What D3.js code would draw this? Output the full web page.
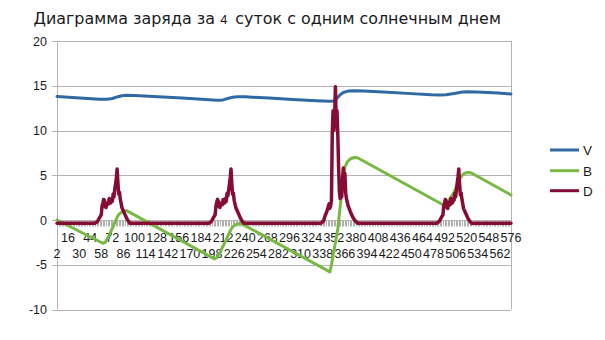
<!DOCTYPE html>
<html><head><meta charset="utf-8">
<script src="https://cdn.jsdelivr.net/npm/d3@7"></script>
<style>
html,body{margin:0;padding:0;background:#fff;}
svg{display:block;}
</style></head>
<body>
<svg id="chart" width="605" height="340"></svg>
<script>
// ---- data ----
const titleParts = ["Диаграмма заряда за", "4", "суток с одним солнечным днем"];
const seriesNames = ["V", "B", "D"];
const seriesColors = ["#2f6aa3", "#78b943", "#870c33"];
const yTicks = [-10, -5, 0, 5, 10, 15, 20];
const categoryFirst = 2, categoryLast = 576;
const categoryLabels = [2,16,30,44,58,72,86,100,114,128,142,156,170,184,198,212,226,240,254,268,282,296,310,324,338,352,366,380,394,408,422,436,450,464,478,492,506,520,534,548,562,576];

// [category, value]
const vPoints = [[2,13.8],[31,13.63],[56,13.5],[65,13.5],[72,13.58],[79,13.78],[84,13.88],[90,13.93],[100,13.9],[130,13.78],[160,13.63],[190,13.47],[204,13.37],[212,13.42],[220,13.63],[226,13.74],[231,13.78],[240,13.76],[270,13.62],[300,13.46],[330,13.32],[347,13.26],[352,13.3],[356,13.6],[360,14.0],[364,14.25],[370,14.4],[378,14.45],[390,14.42],[420,14.28],[450,14.12],[475,14.0],[486,13.97],[494,14.0],[500,14.08],[508,14.2],[514,14.3],[522,14.33],[540,14.27],[560,14.18],[576,14.08]];

const bPoints = [[2,0],[60,-2.6],[63,-2.5],[66,-2.0],[69,-1.5],[72,-0.9],[75,-0.3],[78,0.3],[80,0.6],[84,0.9],[90,1.05],[201,-4.35],[204,-4.2],[208,-3.6],[212,-2.9],[216,-2.2],[220,-1.4],[223,-0.9],[226,-0.6],[230,-0.45],[235,-0.4],[347,-5.8],[349,-5.0],[352,-3.5],[355,-2.0],[357,-1.0],[360,1.5],[363,4.0],[366,5.9],[369,6.5],[373,6.85],[378,6.98],[382,6.95],[490,1.7],[494,1.9],[498,2.3],[502,2.8],[505,3.3],[508,4.0],[512,4.7],[515,5.05],[518,5.25],[522,5.3],[526,5.25],[576,2.8]];

const dPoints = [[2,-0.35],[50,-0.35],[53,-0.2],[56,0.3],[58,0.6],[59,1.6],[60,1.9],[61,2.3],[62,2.2],[63,1.5],[64,1.4],[65,1.7],[66,1.9],[67,1.8],[68,2.4],[69,2.2],[70,1.9],[71,2.3],[72,2.1],[73,2.9],[74,2.6],[75,3.4],[76,4.0],[77,4.6],[78,5.7],[79,4.2],[80,2.9],[81,3.1],[82,2.3],[83,1.9],[84,1.4],[86,1.0],[88,0.6],[90,0.2],[92,-0.1],[94,-0.35],
[194,-0.35],[197,-0.2],[200,0.3],[202,0.6],[203,1.6],[204,2.0],[205,2.3],[206,2.1],[207,1.5],[208,1.4],[209,1.8],[210,1.9],[211,1.7],[212,2.3],[213,2.2],[214,1.9],[215,2.4],[216,2.1],[217,3.0],[218,2.7],[219,3.3],[220,4.0],[221,4.7],[222,5.7],[223,4.1],[224,2.9],[225,3.0],[226,2.2],[227,1.8],[228,1.4],[230,1.0],[232,0.6],[234,0.2],[236,-0.1],[238,-0.35],
[336,-0.35],[339,-0.1],[341,0.5],[343,0.9],[345,1.5],[346,1.8],[347,1.3],[348,1.6],[349,2.2],[350,9.5],[351,12.2],[352,10.0],[353,11.4],[354,14.9],[355,11.0],[356,12.2],[357,9.6],[358,6.0],[359,3.2],[360,2.4],[361,3.4],[362,2.6],[363,4.6],[364,5.8],[365,4.0],[366,5.2],[367,3.0],[368,2.4],[370,1.6],[373,0.9],[376,0.3],[379,-0.1],[382,-0.35],
[482,-0.35],[485,-0.2],[488,0.3],[490,0.6],[491,1.6],[492,1.9],[493,2.3],[494,2.1],[495,1.4],[496,1.3],[497,1.8],[498,2.0],[499,1.7],[500,2.4],[501,2.2],[502,1.9],[503,2.3],[504,2.2],[505,3.0],[506,2.6],[507,3.4],[508,4.1],[509,4.8],[510,5.7],[511,4.0],[512,2.8],[513,3.0],[514,2.3],[515,1.8],[516,1.3],[518,0.9],[520,0.5],[522,0.1],[524,-0.15],[526,-0.35],[576,-0.35]];

const seriesPoints = [vPoints, bPoints, dPoints];
const seriesWidths = [3, 3, 3.5];

// ---- layout ----
const svg = d3.select("#chart");
const plot = {left: 57, right: 511, top: 41, bottom: 309.5};
const x = d3.scaleLinear().domain([categoryFirst, categoryLast]).range([plot.left, plot.right]);
const y = d3.scaleLinear().domain([-10, 20]).range([plot.bottom, plot.top]);
const grid = "#b3b3b3";
const font = "'Liberation Sans', Arial, sans-serif";
const titleFont = "'DejaVu Sans', sans-serif";

// title: three pieces side by side, fitted to the reference width
const titleLeft = 33.5, titleWidth = 468;
const baseSizes = [18, 14.5, 18];
const titleFonts = [titleFont, font, titleFont];
const baseGaps = [6, 9];
function layoutTitle(k) {
  svg.selectAll(".title").remove();
  let tx = titleLeft;
  titleParts.forEach((t, i) => {
    const el = svg.append("text").attr("class", "title").attr("x", tx).attr("y", 23.5)
      .attr("font-family", titleFonts[i]).attr("font-size", baseSizes[i] * k).attr("fill", "#1a1a1a").text(t);
    tx += el.node().getComputedTextLength() + (i < 2 ? baseGaps[i] * k : 0);
  });
  return tx - titleLeft;
}
const w0 = layoutTitle(1);
layoutTitle(titleWidth / w0);

// grid lines + y ticks
svg.append("g").selectAll("line").data(yTicks).join("line")
  .attr("x1", plot.left - 5).attr("x2", plot.right)
  .attr("y1", d => Math.round(y(d)) + 0.5).attr("y2", d => Math.round(y(d)) + 0.5)
  .attr("stroke", grid).attr("stroke-width", 1);
svg.append("line").attr("x1", plot.left + 0.5).attr("x2", plot.left + 0.5)
  .attr("y1", y(20)).attr("y2", y(-10)).attr("stroke", grid);
svg.append("line").attr("x1", plot.right + 0.5).attr("x2", plot.right + 0.5)
  .attr("y1", y(20)).attr("y2", y(-10)).attr("stroke", grid);

svg.append("g").selectAll("text").data(yTicks).join("text")
  .attr("x", 47).attr("y", d => y(d)).attr("dy", "0.36em")
  .attr("text-anchor", "end").attr("font-family", font).attr("font-size", 12.5).attr("fill", "#1a1a1a")
  .text(d => d);

// category tick hatch at y=0
const y0 = Math.round(y(0)) + 0.5;
svg.append("g").selectAll("line").data(d3.range(categoryFirst, categoryLast + 1, 2))
  .join("line")
  .attr("x1", d => Math.round(x(d)) + 0.5).attr("x2", d => Math.round(x(d)) + 0.5)
  .attr("y1", y0).attr("y2", y0 + 6)
  .attr("stroke", "#b0b0b0").attr("stroke-width", 1);

// category labels (staggered)
svg.append("g").selectAll("text").data(categoryLabels).join("text")
  .attr("x", d => x(d)).attr("y", (d, i) => i % 2 === 0 ? 257.7 : 241.7)
  .attr("text-anchor", "middle").attr("font-family", font).attr("font-size", 12.5).attr("fill", "#1a1a1a")
  .text(d => d);

// lines
const line = d3.line().x(d => x(d[0])).y(d => y(d[1]));
seriesPoints.forEach((pts, i) => {
  svg.append("path").attr("d", line(pts)).attr("fill", "none")
    .attr("stroke", seriesColors[i]).attr("stroke-width", seriesWidths[i])
    .attr("stroke-linejoin", "round").attr("stroke-linecap", "round");
});

// legend
const legendY = [150, 170.7, 190.7];
seriesNames.forEach((n, i) => {
  svg.append("line").attr("x1", 550).attr("x2", 579).attr("y1", legendY[i]).attr("y2", legendY[i])
    .attr("stroke", seriesColors[i]).attr("stroke-width", 3);
  svg.append("text").attr("x", 583).attr("y", legendY[i]).attr("dy", "0.36em")
    .attr("font-family", font).attr("font-size", 13.5).attr("fill", "#1a1a1a").text(n);
});
</script>
</body></html>
